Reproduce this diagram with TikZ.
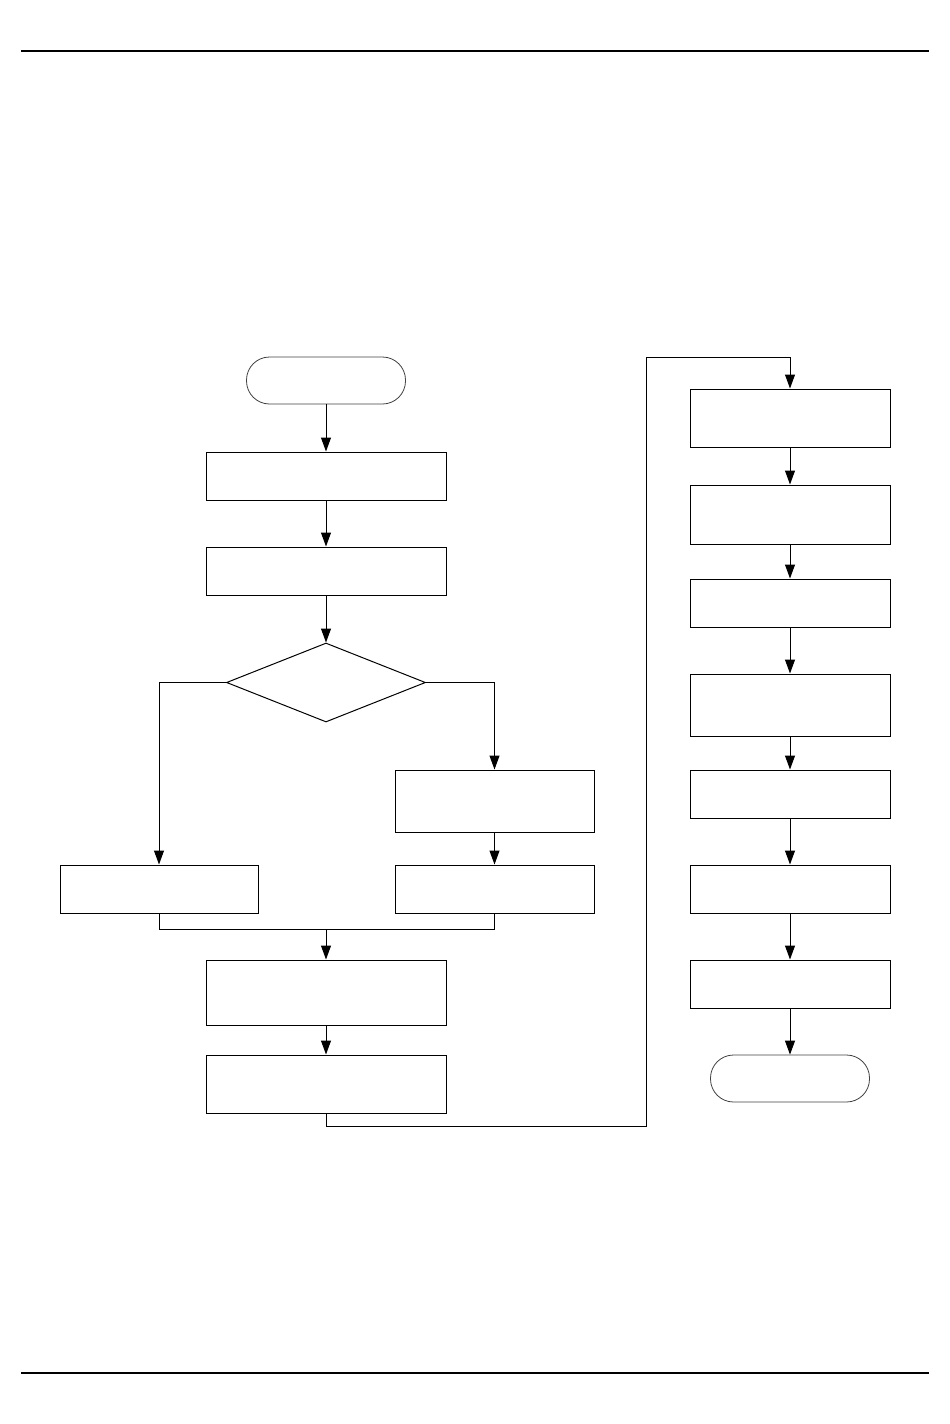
\documentclass[tikz,border=0pt]{standalone}
\usepackage{tikz}
\usetikzlibrary{arrows.meta,shapes.geometric}
\begin{document}
\begin{tikzpicture}[x=1pt, y=-1pt, line width=1pt,
    box/.style={draw, rectangle, inner sep=0pt, minimum width=240pt, minimum height=48pt},
    term/.style={draw=black!75, line width=0.8pt, rectangle, rounded corners=23pt, inner sep=0pt, minimum width=159pt, minimum height=47pt},
    decision/.style={draw, diamond, inner sep=0pt, aspect=2.5, minimum width=199pt, minimum height=79pt},
    arr/.style={-{Triangle[length=14pt, width=10pt]}}]
    \useasboundingbox (0, 0) rectangle (950, 1424);
    \draw [line width=2pt] (21, 51) -- (929, 51);
    \draw [line width=2pt] (21, 1373) -- (929, 1373);
    % left column
    \node [term] (start) at (326, 380.5) {};
    \node [box] (init) at (326, 476) {};
    \node [box] (read) at (326, 571) {};
    \node [decision] (check) at (326, 682.5) {};
    \node [box, minimum width=198pt] (no) at (159, 889) {};
    \node [box, minimum width=199pt, minimum height=62pt] (yesa) at (494.5, 801) {};
    \node [box, minimum width=199pt] (yesb) at (494.5, 889) {};
    \node [box, minimum height=65pt] (calc) at (326, 992.5) {};
    \node [box, minimum height=58pt] (save) at (326, 1084) {};
    % right column
    \node [box, minimum width=200pt, minimum height=58pt] (s1) at (790, 418) {};
    \node [box, minimum width=200pt, minimum height=59pt] (s2) at (790, 514.5) {};
    \node [box, minimum width=200pt] (s3) at (790, 603) {};
    \node [box, minimum width=200pt, minimum height=62pt] (s4) at (790, 705) {};
    \node [box, minimum width=200pt] (s5) at (790, 794) {};
    \node [box, minimum width=200pt] (s6) at (790, 889) {};
    \node [box, minimum width=200pt] (s7) at (790, 984) {};
    \node [term] (stop) at (790, 1078.5) {};
    \coordinate (join) at (326, 929);
    \coordinate (low) at (646, 1126);
    \coordinate (high) at (646, 357);
    % connectors
    \draw [arr] (start) -- (init);
    \draw [arr] (init) -- (read);
    \draw [arr] (read) -- (check.north);
    \draw [arr] (check.west) -| (no.north);
    \draw [arr] (check.east) -| (yesa.north);
    \draw [arr] (yesa) -- (yesb);
    \draw (no.south) |- (join) -| (yesb.south);
    \draw [arr] (join) -- (calc.north);
    \draw [arr] (calc) -- (save);
    \draw [arr] (save.south) |- (low) -- (high) -| (s1.north);
    \foreach \a/\b in {s1/s2, s2/s3, s3/s4, s4/s5, s5/s6, s6/s7, s7/stop}
        \draw [arr] (\a) -- (\b);
\end{tikzpicture}
\end{document}
